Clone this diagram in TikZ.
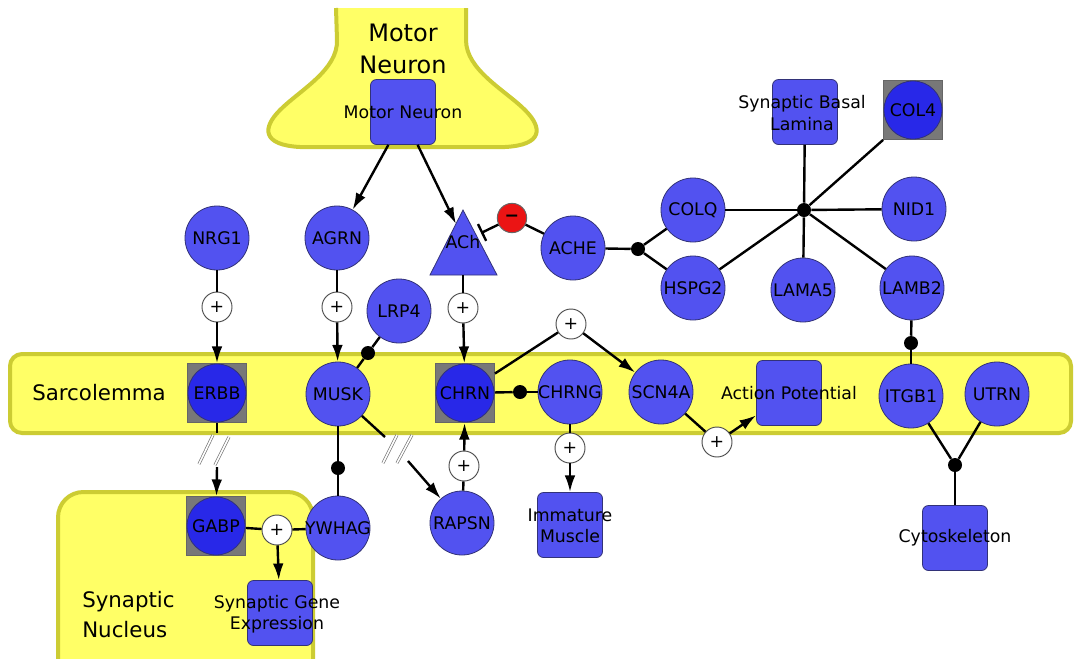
\documentclass[tikz,border=0pt]{standalone}
\usepackage{fontspec}
\setmainfont{DejaVu Sans}
\usetikzlibrary{arrows.meta}
\definecolor{yfill}{RGB}{255,255,102}
\definecolor{yborder}{RGB}{204,204,51}
\definecolor{gfill}{RGB}{82,82,240}
\definecolor{gdark}{RGB}{40,40,232}
\definecolor{gline}{RGB}{50,50,120}
\definecolor{sqgray}{RGB}{120,120,120}
\definecolor{inhred}{RGB}{235,20,20}
\tikzset{
 lbl/.style={font=\fontsize{13}{16}\selectfont, inner sep=0pt, align=center, text=black},
 head/.style={font=\fontsize{16}{24}\selectfont, inner sep=0pt, align=center},
 gene/.style={circle, draw=gline, line width=0.6pt, fill=gfill, minimum size=48pt, inner sep=0pt, label={[lbl]center:#1}},
 cplxsq/.style={rectangle, draw=black!60, line width=0.6pt, fill=sqgray, minimum size=44.25pt, inner sep=0pt},
 cplxin/.style={circle, draw=gline, line width=0.6pt, fill=gdark, minimum size=43.5pt, inner sep=0pt, label={[lbl]center:#1}},
 proc/.style={rectangle, rounded corners=4.5pt, draw=gline, line width=0.6pt, fill=gfill, minimum size=48.75pt, inner sep=0pt},
 plusn/.style={circle, draw=black!70, line width=0.7pt, fill=white, minimum size=22.5pt, inner sep=0pt, font=\fontsize{13}{13}\selectfont},
 inhn/.style={circle, draw=black!60, line width=0.7pt, fill=inhred, minimum size=22pt, inner sep=0pt, font=\bfseries\fontsize{13}{13}\selectfont},
 dotn/.style={circle, fill=black, minimum size=10.5pt, inner sep=0pt},
 conn/.style={line width=1.8pt, draw=black},
 arr/.style={conn, -{Latex[length=12.5pt,width=8pt]}},
 inh/.style={conn, -{Bar[width=14pt,line width=1.8pt]}},
 brk/.style={draw=black!55, line width=0.5pt, double=white, double distance=1.2pt},
 comp/.style={fill=yfill, draw=yborder, line width=3pt},
}
\begin{document}
\begin{tikzpicture}[x=0.75pt,y=-0.75pt]
\useasboundingbox (0,0) rectangle (1074,658);
\clip (0,0) rectangle (1074,658);
\fill[white] (0,0) rectangle (1074,658);

% ---- compartments
\fill[yfill] (336,8) -- (337,40) .. controls (338,70) and (300,90) .. (280,110)
  .. controls (262,128) and (262,145) .. (300,147) -- (505,147)
  .. controls (543,145) and (543,128) .. (525,110)
  .. controls (505,90) and (466,70) .. (466,40) -- (466,8) -- cycle;
\draw[draw=yborder, line width=3pt] (336,8) -- (337,40) .. controls (338,70) and (300,90) .. (280,110)
  .. controls (262,128) and (262,145) .. (300,147) -- (505,147)
  .. controls (543,145) and (543,128) .. (525,110)
  .. controls (505,90) and (466,70) .. (466,40) -- (466,8);
\draw[comp, rounded corners=9pt] (10,354) rectangle (1071,433);
\draw[comp, rounded corners=19pt] (58,492) rectangle (313,700);

\node[head, font=\fontsize{18}{24}\selectfont] (mnhead) at (403,49) {Motor\\Neuron};
\node[head, anchor=west] (sarc) at (32,393) {Sarcolemma};
\node[head, align=left, anchor=west, font=\fontsize{16}{22.5}\selectfont] (snhead) at (82,615) {Synaptic\\Nucleus};

% ---- ACh triangle
\coordinate (achA) at (463,210);
\coordinate (achR) at (497,275);
\coordinate (achL) at (430,275);
\coordinate (achbase) at (463,275);
\coordinate (achin) at (456,224);
\coordinate (achbar) at (481,233);
\filldraw[fill=gfill, draw=gline, line width=0.6pt] (achA) -- (achR) -- (achL) -- cycle;
\node[lbl] (ach) at (463,242) {ACh};

% ---- nodes
\node[proc] (mn) at (403,112) {};
\node[lbl] (mnl) at (403,112) {Motor Neuron};
\node[gene=NRG1] (nrg1) at (217,238) {};
\node[gene=AGRN] (agrn) at (337,238) {};
\node[inhn] (inhb) at (512,218) {−};
\node[gene=ACHE] (ache) at (573,248) {};
\node[dotn] (d1) at (638,249) {};
\node[gene=COLQ] (colq) at (693,210) {};
\node[gene=HSPG2] (hspg2) at (693,288) {};
\node[dotn] (hub) at (804,210) {};
\node[proc] (sbl) at (805,112) {};
\node[lbl] (sbll) at (802,113) {Synaptic Basal\\Lamina};
\node[cplxsq] (col4sq) at (913,110) {};
\node[cplxin=COL4] (col4) at (913,110) {};
\node[gene=NID1] (nid1) at (914,209) {};
\node[gene=LAMA5] (lama5) at (803,290) {};
\node[gene=LAMB2] (lamb2) at (912,288) {};
\node[gene=LRP4] (lrp4) at (399,311) {};
\node[plusn] (p1) at (217,307) {+};
\node[plusn] (p2) at (337,307) {+};
\node[plusn] (p3) at (463,308) {+};
\node[cplxsq] (erbbsq) at (217,393) {};
\node[cplxin=ERBB] (erbb) at (217,393) {};
\node[gene=MUSK] (musk) at (338,394) {};
\node[cplxsq] (chrnsq) at (465,393) {};
\node[cplxin=CHRN] (chrn) at (465,393) {};
\node[dotn] (d2) at (368,353) {};
\node[dotn] (d3) at (520,392) {};
\node[gene=CHRNG] (chrng) at (570,392) {};
\node[plusn] (p4) at (571,324) {+};
\node[gene=SCN4A] (scn4a) at (661,392) {};
\node[proc] (ap) at (789,393) {};
\node[lbl] (apl) at (789,393) {Action Potential};
\node[dotn] (d4) at (911,343) {};
\node[gene=ITGB1] (itgb1) at (911,396) {};
\node[gene=UTRN] (utrn) at (997,394) {};
\node[plusn] (p5) at (570,448) {+};
\node[proc] (imm) at (570,525) {};
\node[lbl] (imml) at (570,526) {Immature\\Muscle};
\node[plusn] (p6) at (717,442) {+};
\node[dotn] (d5) at (955,465) {};
\node[proc] (cyto) at (955,538) {};
\node[lbl] (cytol) at (955,538) {Cytoskeleton};
\node[cplxsq] (gabpsq) at (216,526) {};
\node[cplxin=GABP] (gabp) at (216,526) {};
\node[dotn] (d6) at (338,468) {};
\node[gene=YWHAG] (ywhag) at (338,528) {};
\node[plusn] (p7) at (464,466) {+};
\node[gene=RAPSN] (rapsn) at (462,523) {};
\node[plusn] (p8) at (277,530) {+};
\node[proc] (sge) at (280,613) {};
\node[lbl] (sgel) at (277,614) {Synaptic Gene\\Expression};

% ---- break points
\coordinate (b1a) at (217,433);
\coordinate (b1b) at (217,467);
\coordinate (b2a) at (385,437);
\coordinate (b2b) at (408,461);
\draw[brk] (199,464) -- (213,435);
\draw[brk] (215,465) -- (229,437);
\draw[brk] (383,463) -- (397,435);
\draw[brk] (397,463) -- (412,435);

% ---- connectors
\draw[arr] (mn.246) -- (agrn);
\draw[arr] (mn.294) -- (achin);
\draw[conn] (ache) -- (inhb);
\draw[inh] (inhb) -- (achbar);
\draw[conn] (ache) -- (d1);
\draw[conn] (d1) -- (colq);
\draw[conn] (d1) -- (hspg2);
\draw[conn] (hub) -- (colq);
\draw[conn] (hub) -- (hspg2);
\draw[conn] (hub) -- (sbl);
\draw[conn] (hub) -- (col4sq.south west);
\draw[conn] (hub) -- (nid1);
\draw[conn] (hub) -- (lama5);
\draw[conn] (hub) -- (lamb2);
\draw[conn] (nrg1) -- (p1);
\draw[arr] (p1) -- (erbbsq);
\draw[conn] (agrn) -- (p2);
\draw[arr] (p2) -- (musk);
\draw[conn] (achbase) -- (p3);
\draw[arr] (p3) -- (chrnsq);
\draw[conn] (lrp4) -- (d2);
\draw[conn] (d2) -- (musk);
\draw[conn] (chrnsq) -- (d3);
\draw[conn] (d3) -- (chrng);
\draw[conn] (chrnsq) -- (p4);
\draw[arr] (p4) -- (scn4a);
\draw[conn] (chrng) -- (p5);
\draw[arr] (p5) -- (imm);
\draw[conn] (scn4a) -- (p6);
\draw[arr] (p6) -- (ap);
\draw[conn] (lamb2) -- (d4);
\draw[conn] (d4) -- (itgb1);
\draw[conn] (itgb1) -- (d5);
\draw[conn] (utrn) -- (d5);
\draw[conn] (d5) -- (cyto);
\draw[conn] (erbbsq) -- (b1a);
\draw[arr] (b1b) -- (gabpsq);
\draw[conn] (musk) -- (d6);
\draw[conn] (d6) -- (ywhag);
\draw[conn] (musk) -- (b2a);
\draw[arr] (b2b) -- (rapsn);
\draw[conn] (rapsn) -- (p7);
\draw[arr] (p7) -- (chrnsq);
\draw[conn] (gabpsq) -- (p8);
\draw[conn] (p8) -- (ywhag);
\draw[arr] (p8) -- (sge);
\end{tikzpicture}
\end{document}
